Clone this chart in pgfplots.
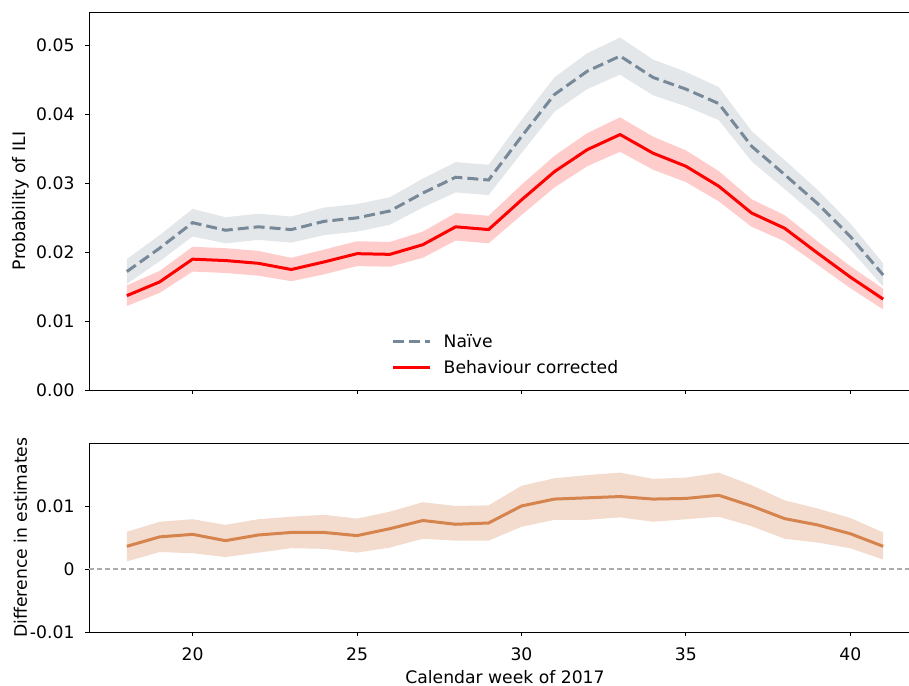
\documentclass[border=0pt]{standalone}
\usepackage{fontspec}
\setmainfont{DejaVu Sans}
\usepackage{pgfplots}
\usepgfplotslibrary{fillbetween}
\usepackage{pgfplotstable}
\pgfplotsset{compat=1.18}

\definecolor{naive}{HTML}{778899}
\definecolor{naivefill}{HTML}{E3E7EA}
\definecolor{corr}{HTML}{FF0000}
\definecolor{corrfill}{HTML}{FFCCCC}
\definecolor{diffc}{HTML}{D6844E}
\definecolor{difffill}{HTML}{F3DBCD}

% week, naive estimate with band, behaviour-corrected estimate with band
\pgfplotstableread{
week naive nlo nhi corr clo chi
18 0.0172 0.0154 0.0190 0.0137 0.0122 0.0152
19 0.0206 0.0187 0.0225 0.0157 0.0141 0.0173
20 0.0243 0.0223 0.0263 0.0190 0.0172 0.0208
21 0.0232 0.0213 0.0251 0.0188 0.0170 0.0206
22 0.0237 0.0218 0.0256 0.0184 0.0166 0.0202
23 0.0233 0.0214 0.0252 0.0175 0.0158 0.0192
24 0.0245 0.0225 0.0265 0.0186 0.0168 0.0204
25 0.0250 0.0230 0.0270 0.0198 0.0180 0.0216
26 0.0260 0.0240 0.0280 0.0197 0.0179 0.0215
27 0.0286 0.0265 0.0307 0.0211 0.0192 0.0230
28 0.0309 0.0287 0.0331 0.0237 0.0217 0.0257
29 0.0305 0.0283 0.0327 0.0233 0.0213 0.0253
30 0.0368 0.0344 0.0392 0.0276 0.0254 0.0298
31 0.0429 0.0404 0.0454 0.0317 0.0294 0.0340
32 0.0463 0.0437 0.0489 0.0349 0.0325 0.0373
33 0.0485 0.0458 0.0512 0.0371 0.0346 0.0396
34 0.0454 0.0428 0.0480 0.0344 0.0320 0.0368
35 0.0437 0.0412 0.0462 0.0325 0.0302 0.0348
36 0.0416 0.0392 0.0440 0.0296 0.0274 0.0318
37 0.0354 0.0332 0.0376 0.0257 0.0237 0.0277
38 0.0313 0.0292 0.0334 0.0235 0.0216 0.0254
39 0.0271 0.0251 0.0291 0.0199 0.0182 0.0216
40 0.0223 0.0204 0.0242 0.0164 0.0148 0.0180
41 0.0167 0.0150 0.0184 0.0132 0.0117 0.0147
}\estimates

% week, difference between the two estimates with band
\pgfplotstableread{
week diff dlo dhi
18 0.0036 0.0012 0.0059
19 0.0051 0.0027 0.0075
20 0.0055 0.0025 0.0079
21 0.0045 0.0019 0.0070
22 0.0054 0.0026 0.0079
23 0.0058 0.0033 0.0083
24 0.0058 0.0032 0.0086
25 0.0053 0.0026 0.0080
26 0.0064 0.0034 0.0091
27 0.0077 0.0048 0.0106
28 0.0071 0.0045 0.0100
29 0.0073 0.0045 0.0101
30 0.0100 0.0067 0.0132
31 0.0111 0.0078 0.0144
32 0.0113 0.0078 0.0149
33 0.0115 0.0082 0.0153
34 0.0111 0.0075 0.0143
35 0.0112 0.0079 0.0145
36 0.0117 0.0083 0.0153
37 0.0100 0.0068 0.0133
38 0.0080 0.0048 0.0109
39 0.0070 0.0042 0.0096
40 0.0056 0.0033 0.0081
41 0.0036 0.0015 0.0058
}\difference

\newcommand\plotfont{\fontsize{17.2bp}{20bp}\selectfont}

\pgfplotsset{
  common/.style={
    scale only axis,
    width=832bp,
    xmin=16.85, xmax=42.15,
    xtick={20,25,30,35,40},
    scaled x ticks=false, scaled y ticks=false,
    tick align=outside,
    xtick pos=bottom, ytick pos=left,
    major tick length=4bp,
    tick style={black, line width=0.8bp},
    axis line style={line width=0.8bp},
    font=\plotfont,
    xticklabel style={yshift=-8bp},
    yticklabel style={xshift=-7bp},
    ylabel style={at={(axis description cs:-0.0825,0.5)}, anchor=center},
  }
}

\begin{document}
\begin{tikzpicture}[x=1bp,y=1bp]
% upper panel: the two estimates
\begin{axis}[common,
  at={(89bp,296bp)}, anchor=south west,
  height=378bp,
  ymin=0, ymax=0.0549,
  xticklabels={},
  ytick={0,0.01,0.02,0.03,0.04,0.05},
  yticklabels={0.00,0.01,0.02,0.03,0.04,0.05},
  ylabel={Probability of ILI},
  legend style={draw=none, fill=none, at={(axis description cs:0.36,0.159)},
    anchor=north west, row sep=8bp, font=\plotfont,
    /tikz/every odd column/.append style={column sep=10bp}},
  legend cell align=left,
  legend image code/.code={\draw[#1] (0bp,0bp) -- (37bp,0bp);},
]
\addplot[name path=nhi, draw=none, forget plot] table[x=week,y=nhi] {\estimates};
\addplot[name path=nlo, draw=none, forget plot] table[x=week,y=nlo] {\estimates};
\addplot[naivefill, draw=none, forget plot] fill between[of=nhi and nlo];
\addplot[name path=chi, draw=none, forget plot] table[x=week,y=chi] {\estimates};
\addplot[name path=clo, draw=none, forget plot] table[x=week,y=clo] {\estimates};
\addplot[corrfill, draw=none, forget plot] fill between[of=chi and clo];
\addplot[naive, line width=3bp, dash pattern=on 11bp off 5bp] table[x=week,y=naive] {\estimates};
\addlegendentry{Naïve}
\addplot[corr, line width=3bp] table[x=week,y=corr] {\estimates};
\addlegendentry{Behaviour corrected}
\end{axis}

% lower panel: difference between the estimates
\begin{axis}[common,
  at={(89bp,54bp)}, anchor=south west,
  height=189bp,
  ymin=-0.01, ymax=0.02,
  xticklabels={20,25,30,35,40},
  ytick={-0.01,0,0.01},
  yticklabels={-0.01,0,0.01},
  ylabel={Difference in estimates},
  xlabel={Calendar week of 2017},
  xlabel style={at={(axis description cs:0.5,-0.238)}, anchor=center},
]
\addplot[gray!65, line width=1.2bp, dash pattern=on 5bp off 3bp, forget plot]
  coordinates {(16.85,0) (42.15,0)};
\addplot[name path=dhi, draw=none, forget plot] table[x=week,y=dhi] {\difference};
\addplot[name path=dlo, draw=none, forget plot] table[x=week,y=dlo] {\difference};
\addplot[difffill, draw=none, forget plot] fill between[of=dhi and dlo];
\addplot[diffc, line width=3bp] table[x=week,y=diff] {\difference};
\end{axis}

\pgfresetboundingbox
\useasboundingbox (0,0) rectangle (909bp,686bp);
\end{tikzpicture}
\end{document}
